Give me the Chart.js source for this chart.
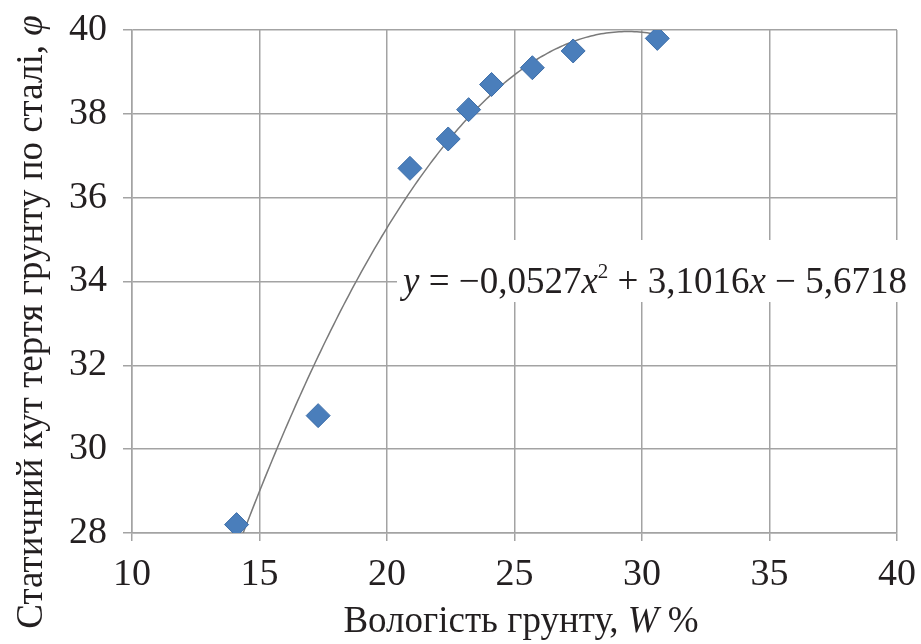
<!DOCTYPE html>
<html>
<head>
<meta charset="utf-8">
<script src="https://cdn.jsdelivr.net/npm/chart.js@4.4.0/dist/chart.umd.min.js"></script>
</head>
<body style="margin:0">
<canvas id="myChart" width="921" height="644"></canvas>
<script>
// вологість, %
const vologist = [14.1, 17.3, 20.9, 22.4, 23.2, 24.1, 25.7, 27.3, 30.6];
// кут тертя, град
const kut = [28.2, 30.8, 36.7, 37.4, 38.1, 38.7, 39.1, 39.5, 39.8];
// коефіцієнти лінії тренду з підпису: a*x^2 + b*x + c
const trendCoef = [-0.0527, 3.1016, -5.6718];
const xTicks = [10, 15, 20, 25, 30, 35, 40];
const yTicks = [28, 30, 32, 34, 36, 38, 40];

const fam = "'Liberation Serif'";
const ink = '#231f20';
const gridColor = '#a3a3a3';

const puntos = vologist.map((v, i) => ({x: v, y: kut[i]}));

const trend = [];
for (let i = 0; i <= 165; i++) {
  const x = vologist[0] + (vologist[vologist.length - 1] - vologist[0]) * i / 165;
  trend.push({x: x, y: trendCoef[0] * x * x + trendCoef[1] * x + trendCoef[2]});
}

function rich(c, parts, x, y, align) {
  let w = 0;
  parts.forEach(p => {
    c.font = (p.italic ? 'italic ' : '') + p.size + 'px ' + fam;
    p.w = c.measureText(p.t).width;
    w += p.w;
  });
  let cx = align === 'center' ? x - w / 2 : x;
  c.textAlign = 'left';
  c.textBaseline = 'alphabetic';
  parts.forEach(p => {
    c.font = (p.italic ? 'italic ' : '') + p.size + 'px ' + fam;
    c.fillText(p.t, cx, y + (p.dy || 0));
    cx += p.w;
  });
  return w;
}

const etiquetas = {
  id: 'etiquetas',
  beforeDatasetsDraw(chart) {
    const c = chart.ctx;
    c.save();
    c.fillStyle = '#fff';
    c.fillRect(397, 240, 518, 62);
    c.fillStyle = ink;
    const s = 37;
    rich(c, [
      {t: 'y', italic: true, size: s},
      {t: ' = \u22120,0527', size: s},
      {t: 'x', italic: true, size: s},
      {t: '2', size: 21, dy: -15},
      {t: ' + 3,1016', size: s},
      {t: 'x', italic: true, size: s},
      {t: ' \u2212 5,6718', size: s}
    ], 403, 293, 'left');
    c.restore();
  },
  afterDraw(chart) {
    const c = chart.ctx;
    c.save();
    c.fillStyle = ink;
    rich(c, [
      {t: 'Вологість грунту, ', size: 37},
      {t: 'W', italic: true, size: 37},
      {t: ' %', size: 37}
    ], 521, 632, 'center');
    c.translate(42, 322);
    c.rotate(-Math.PI / 2);
    rich(c, [
      {t: 'Статичний кут тертя грунту по сталі, ', size: 37},
      {t: 'φ', italic: true, size: 37}
    ], 0, 0, 'center');
    c.restore();
  }
};

const chart = new Chart(document.getElementById('myChart'), {
  type: 'scatter',
  data: {
    datasets: [{
      data: puntos,
      pointStyle: 'rectRot',
      pointRadius: 12,
      backgroundColor: '#4a7ebb',
      borderColor: '#3c6da8',
      borderWidth: 1
    }, {
      data: trend,
      showLine: true,
      pointRadius: 0,
      borderColor: '#7a7a7a',
      borderWidth: 1.5,
      tension: 0
    }]
  },
  options: {
    responsive: false,
    animation: false,
    layout: {padding: {top: 30, right: 24, left: 0, bottom: 0}},
    plugins: {legend: {display: false}, tooltip: {enabled: false}},
    scales: {
      x: {
        min: 10, max: 40,
        afterBuildTicks: s => { s.ticks = xTicks.map(v => ({value: v})); },
        afterFit: s => { s.height = 111; s.paddingLeft = 0; s.paddingRight = 0; },
        ticks: {font: {family: fam, size: 38}, color: ink, padding: 11, maxRotation: 0},
        grid: {color: gridColor, lineWidth: 1.5, tickLength: 8},
        border: {color: gridColor, width: 1.5}
      },
      y: {
        min: 28, max: 40,
        afterBuildTicks: s => { s.ticks = yTicks.map(v => ({value: v})); },
        afterFit: s => { s.width = 132; s.paddingTop = 0; s.paddingBottom = 0; },
        ticks: {font: {family: fam, size: 38}, color: ink, padding: 16},
        grid: {color: gridColor, lineWidth: 1.5, tickLength: 9},
        border: {color: gridColor, width: 1.5}
      }
    }
  },
  plugins: [etiquetas]
});

document.fonts.load("38px 'Liberation Serif'").then(() => document.fonts.load("italic 37px 'Liberation Serif'")).then(() => chart.update());
</script>
</body>
</html>
